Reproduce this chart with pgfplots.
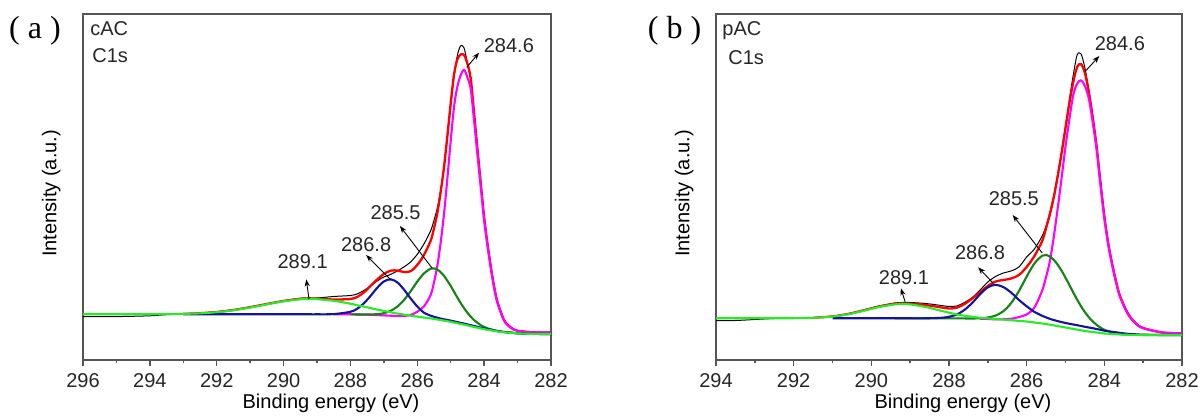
\documentclass[border=0pt]{standalone}
\usepackage{pgfplots}
\pgfplotsset{compat=1.18}
\usepackage{pgfplotstable}
\usetikzlibrary{arrows.meta}
\usepackage{fontspec}
\setmainfont{Liberation Sans}
\newfontfamily\panelfont{Liberation Serif}

\definecolor{envred}{RGB}{255,0,0}
\definecolor{pkmag}{RGB}{255,0,255}
\definecolor{pkgreen}{RGB}{22,130,22}
\definecolor{pknavy}{RGB}{20,20,150}
\definecolor{bglime}{RGB}{38,235,38}
\definecolor{framegray}{RGB}{85,85,85}

% C 1s spectra: raw data, envelope, and components (each on its background)
% c1: 289.1 eV + background, c2: 286.8 eV, c3: 285.5 eV, c4: 284.6 eV
\pgfplotstableread{
E raw env c1 c2 c3 c4
296 43.3 45.7 45.7 45.7 45.7 45.7
295 43.4 45.7 45.7 45.7 45.7 45.7
294 44.2 45.7 45.75 45.7 45.7 45.7
293.5 45.3 45.8 45.8 45.7 45.7 45.7
293 46.0 46.1 46.1 45.7 45.7 45.7
292.5 46.9 46.8 46.65 45.7 45.7 45.7
292 48.2 48.0 47.8 45.7 45.7 45.7
291.5 50.3 50.0 49.7 45.7 45.7 45.7
291 53.0 52.8 52.4 45.7 45.7 45.7
290.5 56.0 56.0 55.6 45.7 45.7 45.7
290 59.3 59.0 58.7 45.7 45.7 45.7
289.5 61.7 61.2 60.7 45.7 45.7 45.7
289.2 62.0 61.5 61.0 45.7 45.7 45.7
289 62.0 61.4 60.85 45.7 45.7 45.7
288.5 63.5 60.5 59.2 45.9 45.7 45.7
288 64.5 61.0 56.3 48.2 45.7 45.7
287.8 66.0 63.0 54.8 51.2 45.5 45.5
287.6 69.5 67.5 53.4 56.6 45.5 45.4
287.4 74.0 74.0 51.9 64.0 45.6 45.2
287.2 79.0 80.5 50.4 72.1 45.8 44.9
287.0 83.0 86.0 49.1 78.5 46.8 44.6
286.8 85.5 89.3 47.7 80.7 49.1 44.3
286.6 89.0 89.5 46.5 77.7 53.3 44.1
286.4 93.0 88.0 45.4 70.5 59.9 44.1
286.2 98.0 88.8 44.3 61.6 68.6 45.0
286.0 105.7 95.0 43.4 53.5 78.4 48.3
285.8 116.1 105.1 42.4 47.3 86.6 53.6
285.6 129.2 119.2 41.6 44.3 91.3 65.0
285.5 139.7 131.7 41.1 43.2 91.6 77.6
285.4 152.0 147.0 40.5 42.3 90.4 94.1
285.3 170.0 168.0 40.0 41.4 87.8 117.6
285.2 193.0 193.0 39.4 40.7 84.1 146.1
285.1 222.0 224.1 38.8 40.0 79.3 181.5
285.0 253.7 256.7 38.2 39.4 74.1 219.0
284.9 283.6 285.6 37.4 38.6 68.2 253.3
284.8 304.8 300.8 36.7 37.9 62.4 273.6
284.7 314.2 305.5 36.0 37.1 56.9 284.9
284.6 312.0 305.0 35.3 36.4 51.8 290.2
284.5 296.4 296.4 34.6 35.6 47.2 282.5
284.4 279.3 281.3 33.8 34.8 43.3 270.8
284.3 245.9 246.9 33.0 34.0 39.9 239.0
284.2 211.5 211.1 32.3 33.2 37.2 205.3
284.1 177.0 176.6 31.5 32.3 34.8 172.5
284.0 143.0 142.8 30.8 31.6 33.0 139.8
283.9 116.6 116.4 30.2 30.9 31.7 114.2
283.8 93.6 93.3 29.7 30.3 30.7 91.7
283.7 73.5 73.2 29.1 29.6 29.7 72.1
283.6 58.2 57.9 28.6 29.0 29.0 57.1
283.4 40.0 39.7 27.7 28.0 27.9 39.2
283.2 32.8 32.5 27.2 27.4 27.3 32.2
283.0 29.5 29.2 26.6 26.7 26.6 29.1
282.5 27.8 27.6 26.1 26.1 26.1 27.6
282 27.6 27.5 26.0 26.0 26.0 27.5
}\cacdata

\pgfplotstableread{
E raw env c1 c2 c3 c4
294 39.3 41.7 41.7 41.7 41.7 41.7
293.5 39.5 41.7 41.7 41.7 41.7 41.7
293 40.5 41.7 41.7 41.7 41.7 41.7
292.5 41.5 41.7 41.75 41.7 41.7 41.7
292 41.8 41.8 41.8 41.7 41.7 41.7
291.5 42.2 42.2 42.15 41.7 41.7 41.7
291 43.8 43.6 43.45 41.7 41.7 41.7
290.6 46.3 46.0 45.7 41.7 41.7 41.7
290.2 50.0 49.6 49.2 41.7 41.7 41.7
289.8 54.0 53.5 53.0 41.7 41.7 41.7
289.4 57.0 56.2 55.6 41.7 41.7 41.7
289.2 57.5 56.6 56.0 41.7 41.7 41.7
289 57.5 56.3 55.6 41.7 41.7 41.7
288.6 56.5 55.0 53.0 41.7 41.7 41.7
288.2 54.5 52.6 49.2 42.2 41.7 41.7
288 53.5 51.5 47.35 43.2 41.7 41.7
287.8 54.0 52.3 45.6 45.5 41.6 41.6
287.6 57.5 56.0 44.25 50.15 41.55 41.55
287.4 62.5 61.5 43.15 57.2 41.5 41.4
287.2 70.0 68.0 42.3 65.7 41.7 41.2
287.0 78.0 74.0 41.6 72.7 42.5 41.0
286.8 83.5 78.5 40.95 75.2 44.4 40.6
286.6 87.0 80.0 40.4 72.9 48.8 40.7
286.4 89.0 81.5 39.8 67.4 56.9 41.2
286.2 93.0 85.0 39.1 60.1 68.9 42.9
286.0 103.0 93.0 38.5 53.7 83.4 45.5
285.8 111.0 104.0 37.5 48.1 96.6 52.5
285.6 124.0 119.0 36.5 44.2 104.3 69.5
285.5 134.0 132.0 36.0 42.6 105.0 83.0
285.4 148.0 146.0 35.3 41.1 103.4 99.3
285.3 165.0 163.0 34.6 39.9 100.1 123.6
285.2 186.0 184.0 33.9 38.9 95.2 151.9
285.1 209.0 207.0 33.2 37.9 89.2 182.2
285.0 234.0 232.0 32.5 37.0 82.3 213.5
284.9 260.0 257.0 31.8 36.2 75.0 240.8
284.8 285.0 278.0 31.1 35.5 67.5 265.1
284.7 305.0 293.0 30.4 34.8 60.4 276.4
284.6 306.0 296.0 29.7 34.0 53.7 279.7
284.5 292.0 287.0 29.0 33.2 47.8 274.0
284.4 270.0 268.0 28.5 32.5 42.8 261.5
284.3 244.0 243.0 28.0 31.8 38.6 238.0
284.2 214.0 214.0 27.5 31.0 35.2 210.5
284.1 178.0 178.0 27.0 30.2 32.4 175.0
284.0 144.0 144.0 26.5 29.3 30.2 141.5
283.9 117.0 117.0 26.3 28.8 28.8 115.3
283.8 96.5 96.5 26.0 28.2 27.6 95.0
283.7 79.0 79.0 25.8 27.7 26.8 77.8
283.6 64.5 64.5 25.5 27.1 26.1 63.5
283.4 47.0 47.0 25.2 26.2 25.4 46.2
283.2 37.0 37.0 25.1 25.7 25.2 36.6
283.0 32.0 32.0 25.0 25.3 25.0 31.7
282.5 27.5 27.5 25.0 25.0 25.0 27.5
282 26.7 26.7 25.0 25.0 25.0 26.7
}\pacdata

\tikzset{
  ann/.style={font=\fontsize{10}{12}\selectfont, text=black!85, inner sep=0pt},
  annarrow/.style={-{Stealth[length=3.6pt,width=2.6pt]}, line width=0.45pt, black},
  samplelabel/.style={anchor=base west, inner sep=0pt, font=\fontsize{10}{12}\selectfont, text=black!85},
}

\pgfplotsset{
  xps/.style={
    scale only axis,
    height=173pt,
    x dir=reverse,
    ymin=0, ymax=346,
    ytick=\empty,
    minor x tick num=1,
    tick align=outside,
    xtick pos=bottom,
    major tick length=3pt,
    minor tick length=1.6pt,
    axis line style={framegray, line width=0.75pt},
    every tick/.style={framegray, line width=0.75pt},
    /pgf/number format/assume math mode=true,
    tick label style={font=\fontsize{10}{12}\selectfont, text=black!85},
    xticklabel style={anchor=base, inner sep=0pt, yshift=-10.9pt},
    label style={font=\fontsize{10}{12}\selectfont, text=black!85},
    xlabel={Binding energy (eV)},
    ylabel={Intensity (a.u.)},
    every axis x label/.style={at={([yshift=-24.5pt]rel axis cs:0.53,0)}, anchor=base, inner sep=0pt},
    every axis y label/.style={at={([xshift=-11pt,yshift=-3.2pt]rel axis cs:0,0.5)}, rotate=90, anchor=south, inner sep=0pt},
    every axis plot/.append style={smooth, line join=round},
    raw/.style={black, line width=0.5pt},
    envelope/.style={envred, line width=1.15pt},
    comp/.style={line width=1.05pt},
  }
}

\begin{document}
\begin{tikzpicture}
\useasboundingbox (0,0) rectangle (600pt,208.5pt);

% ---- (a) cAC ----
\begin{axis}[xps, at={(41.5pt,28.5pt)}, anchor=south west, width=234pt,
  xmin=282, xmax=296, xtick={282,284,...,296}]
  \addplot[raw] table[x=E, y=raw] {\cacdata};
  \addplot[envelope, restrict x to domain=282:293] table[x=E, y=env] {\cacdata};
  \addplot[comp, pkmag, restrict x to domain=282:288.5] table[x=E, y=c4] {\cacdata};
  \addplot[comp, pkgreen, restrict x to domain=282:288] table[x=E, y=c3] {\cacdata};
  \addplot[comp, pknavy, restrict x to domain=282:293] table[x=E, y=c2] {\cacdata};
  \addplot[comp, bglime] table[x=E, y=c1] {\cacdata};

  \draw[annarrow] (axis cs:284.52,292.7) -- (axis cs:284.15,307.3);
  \node[ann] at (axis cs:283.26,314) {284.6};
  \draw[annarrow] (axis cs:285.56,92) -- (axis cs:286.52,134);
  \node[ann] at (axis cs:286.65,147.5) {285.5};
  \draw[annarrow] (axis cs:286.79,80) -- (axis cs:287.53,105);
  \node[ann] at (axis cs:287.53,115.5) {286.8};
  \draw[annarrow] (axis cs:289.24,61) -- (axis cs:289.32,80.7);
  \node[ann] at (axis cs:289.43,98) {289.1};
\end{axis}

% ---- (b) pAC ----
\begin{axis}[xps, at={(358pt,28.5pt)}, anchor=south west, width=233pt,
  xmin=282, xmax=294, xtick={282,284,...,294}]
  \addplot[raw] table[x=E, y=raw] {\pacdata};
  \addplot[envelope, restrict x to domain=282:291.5] table[x=E, y=env] {\pacdata};
  \addplot[comp, pkmag, restrict x to domain=282:287.2] table[x=E, y=c4] {\pacdata};
  \addplot[comp, pkgreen, restrict x to domain=282:289.4] table[x=E, y=c3] {\pacdata};
  \addplot[comp, pknavy, restrict x to domain=282:291] table[x=E, y=c2] {\pacdata};
  \addplot[comp, bglime] table[x=E, y=c1] {\pacdata};

  \draw[annarrow] (axis cs:284.50,288.3) -- (axis cs:284.13,304);
  \node[ann] at (axis cs:283.60,316) {284.6};
  \draw[annarrow] (axis cs:285.60,107) -- (axis cs:286.36,145);
  \node[ann] at (axis cs:286.33,161) {285.5};
  \draw[annarrow] (axis cs:286.86,76.7) -- (axis cs:287.25,92.7);
  \node[ann] at (axis cs:287.20,107) {286.8};
  \draw[annarrow] (axis cs:289.13,58.3) -- (axis cs:289.24,71.7);
  \node[ann] at (axis cs:289.16,82.5) {289.1};
\end{axis}

% panel letters and sample labels
\node[font=\panelfont\fontsize{16}{18}\selectfont] at (17.5pt,193pt) {( a )};
\node[font=\panelfont\fontsize{16}{18}\selectfont] at (337.3pt,193pt) {( b )};
\node[samplelabel] at (45pt,190.5pt) {cAC};
\node[samplelabel] at (46pt,177.2pt) {C1s};
\node[samplelabel] at (361pt,190.5pt) {pAC};
\node[samplelabel] at (364pt,176pt) {C1s};
\end{tikzpicture}
\end{document}
